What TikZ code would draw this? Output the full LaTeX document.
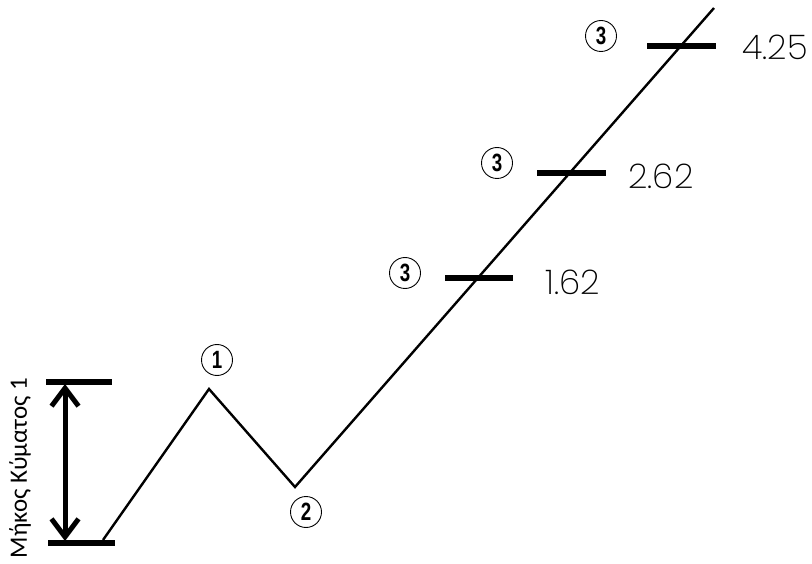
\documentclass[tikz,border=0pt]{standalone}
\usepackage{fontspec}
\setmainfont{Liberation Sans}
\newfontfamily\greekfont{Carlito}
\newfontfamily\thinfont{Poppins}[UprightFont=* ExtraLight]
\newfontfamily\condfont{Liberation Sans}
\usetikzlibrary{arrows.meta}
\begin{document}
\begin{tikzpicture}[x=1pt,y=-1pt,
  wave/.style={line width=2.4pt,line join=miter},
  tick/.style={line width=5.5pt},
  circnum/.style={circle,draw,line width=0.9pt,minimum size=31pt,inner sep=0pt,
     font=\condfont\bfseries\fontsize{25}{25}\selectfont},
  ratio/.style={font=\thinfont\fontsize{34}{34}\selectfont,inner sep=0pt,xscale=1.0},
  span/.style={line width=5pt,{Straight Barb[length=18pt,width=27pt]}-{Straight Barb[length=18pt,width=27pt]}}
]
\useasboundingbox (0,0) rectangle (812,564);
% wave
\coordinate (w0) at (103,540);
\coordinate (w1) at (209,389);
\coordinate (w2) at (295,487);
\coordinate (w3) at (714,8);
\draw[wave] (w0) -- (w1) -- (w2) -- (w3);
% ticks
\coordinate (ta1) at (445,278); \coordinate (tb1) at (513,278);
\coordinate (ta2) at (537,173); \coordinate (tb2) at (606,173);
\coordinate (ta3) at (647,46);  \coordinate (tb3) at (716,46);
\draw[tick] (ta1) -- (tb1);
\draw[tick] (ta2) -- (tb2);
\draw[tick] (ta3) -- (tb3);
% ratio labels
\node[ratio] (r1) at (573,282) {1.62};
\node[ratio] (r2) at (661,176) {2.62};
\node[ratio] (r3) at (775,47) {4.25};
% circled numbers
\node[circnum] (c1) at (217,360) {\scalebox{0.75}[1]{1}};
\node[circnum] (c2) at (306,512) {\scalebox{0.75}[1]{2}};
\node[circnum] (c3a) at (405,273) {\scalebox{0.75}[1]{3}};
\node[circnum] (c3b) at (497,163) {\scalebox{0.75}[1]{3}};
\node[circnum] (c3c) at (601,36) {\scalebox{0.75}[1]{3}};
% wavelength bars
\coordinate (ba) at (46,382); \coordinate (bb) at (112,382);
\coordinate (bc) at (48,543); \coordinate (bd) at (115,543);
\draw[tick] (ba) -- (bb);
\draw[tick] (bc) -- (bd);
\coordinate (aa) at (65,384); \coordinate (ab) at (65,541);
\draw[span] (aa) -- (ab);
% vertical label
\node[rotate=90,font=\greekfont\fontsize{25}{25}\selectfont,inner sep=0pt] (lbl) at (20,468) {Μήκος Κύματος 1};
\end{tikzpicture}
\end{document}
